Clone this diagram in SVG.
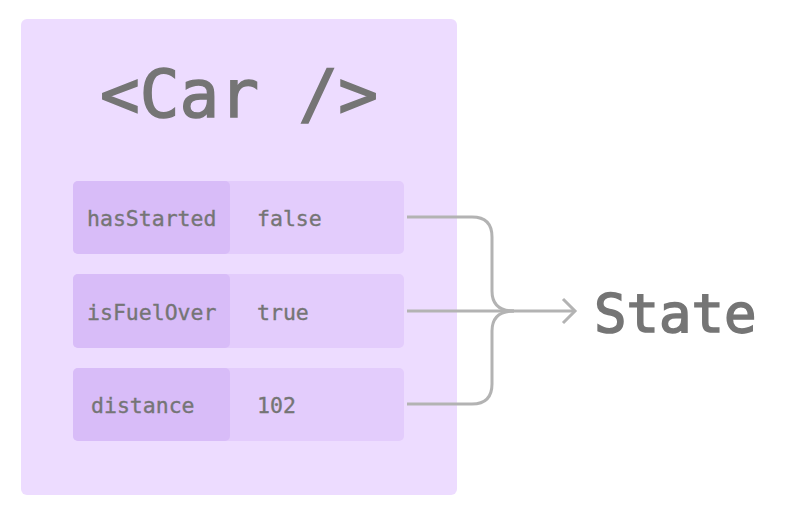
<svg xmlns="http://www.w3.org/2000/svg" width="789" height="518" viewBox="0 0 789 518">
<style>
.t{font-family:"DejaVu Sans Mono","Liberation Mono",monospace;fill:#757575}
.big{stroke:#757575;stroke-width:1.6}
.k{fill:#D8BCF8}
.v{fill:#E3CCFC}
.lbl{font-size:21.5px;stroke:#757575;stroke-width:0.35}
.c{fill:none;stroke:#B3B3B3;stroke-width:3}
</style>
<rect width="789" height="518" fill="#FFFFFF"/>
<g id="car">
<rect x="21" y="19" width="436" height="476" rx="6" fill="#EDDCFF"/>
<text class="t big" x="239" y="117" font-size="66" text-anchor="middle">&lt;Car /&gt;</text>
</g>
<g id="row-hasStarted">
<rect class="v" x="73" y="181" width="331" height="73" rx="5"/>
<rect class="k" x="73" y="181" width="157" height="73" rx="5"/>
<text class="t lbl" x="87" y="226">hasStarted</text>
<text class="t lbl" x="257" y="226">false</text>
</g>
<g id="row-isFuelOver">
<rect class="v" x="73" y="274" width="331" height="74" rx="5"/>
<rect class="k" x="73" y="274" width="157" height="74" rx="5"/>
<text class="t lbl" x="87" y="320">isFuelOver</text>
<text class="t lbl" x="257" y="320">true</text>
</g>
<g id="row-distance">
<rect class="v" x="73" y="368" width="331" height="73" rx="5"/>
<rect class="k" x="73" y="368" width="157" height="73" rx="5"/>
<text class="t lbl" x="91" y="413">distance</text>
<text class="t lbl" x="257" y="413">102</text>
</g>
<g id="state">
<text class="t big" x="594" y="332" font-size="54">State</text>
</g>
<g id="connectors">
<path class="c" d="M407 217 H472 Q492 217 492 237 V291 Q492 311 514 311"/>
<path class="c" d="M407 404 H472 Q492 404 492 384 V331 Q492 311 514 311"/>
<path class="c" d="M407 311 H575"/>
<path class="c" d="M563 299 L575 311 L563 323"/>
</g>
</svg>
